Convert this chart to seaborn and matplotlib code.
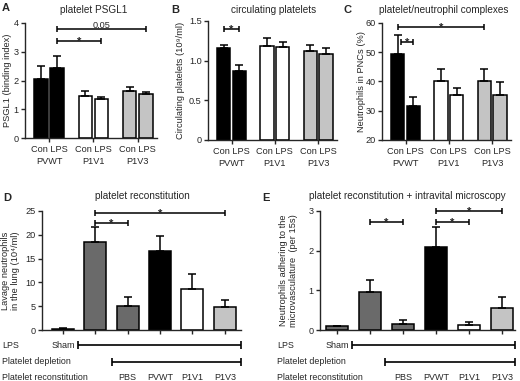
import numpy as np
import pandas as pd
import seaborn as sns
import matplotlib.pyplot as plt

# Data
groups = ["PVWT", "P1V1", "P1V3"]
conditions = ["Con", "LPS"]
psgl1_mean = [2.05, 2.42, 1.45, 1.35, 1.62, 1.53]
psgl1_err = [0.45, 0.43, 0.17, 0.07, 0.15, 0.06]
platelet_mean = [1.16, 0.87, 1.18, 1.17, 1.12, 1.09]
platelet_err = [0.04, 0.07, 0.10, 0.07, 0.08, 0.07]
pnc_mean = [49.5, 31.5, 40.0, 35.5, 40.0, 35.3]
pnc_err = [6.3, 3.3, 4.2, 2.2, 4.4, 4.5]

recon_groups = ["Sham", "LPS", "PBS", "PVWT", "P1V1", "P1V3"]
recon_labels = ["PBS", "PVWT", "P1V1", "P1V3"]
lavage_mean = [0.3, 18.4, 5.1, 16.5, 8.7, 4.8]
lavage_err = [0.2, 3.2, 1.9, 3.3, 3.1, 1.4]
adhere_mean = [0.10, 0.97, 0.16, 2.10, 0.12, 0.55]
adhere_err = [0.01, 0.28, 0.08, 0.50, 0.08, 0.28]

# significance brackets: (bar index 1, bar index 2, height, text)
psgl1_sig = [(1, 3, 3.37, "*"), (1, 5, 3.79, "0.05")]
platelet_sig = [(0, 1, 1.40, "*")]
pnc_sig = [(0, 1, 53.5, "*"), (0, 4, 58.6, "*")]
lavage_sig = [(1, 2, 22.5, "*"), (1, 5, 24.6, "*")]
adhere_sig = [(1, 2, 2.73, "*"), (3, 4, 2.73, "*"), (3, 5, 3.0, "*")]

top_colors = ["black", "black", "white", "white", "#c4c4c4", "#c4c4c4"]
bottom_colors = ["#6a6a6a", "#6a6a6a", "#6a6a6a", "black", "white", "#c4c4c4"]

sns.set_style("ticks")
plt.rcParams['font.family'] = ['Liberation Sans', 'DejaVu Sans']
plt.rcParams['font.size'] = 6.6
plt.rcParams['axes.linewidth'] = 1.0

W, H = 520, 381
fig = plt.figure(figsize=(W / 100, H / 100), dpi=100)


def px_rect(x0, y0, x1, y1):
    return [x0 / W, 1 - y1 / H, (x1 - x0) / W, (y1 - y0) / H]


def fig_text(x, y, s, **kw):
    fig.text(x / W, 1 - y / H, s, **kw)


def bracket(ax, x1, x2, y, text, ax_h_px):
    y0, y1 = ax.get_ylim()
    h = 3.0 / ax_h_px * (y1 - y0)
    kw = dict(color="black", lw=1.1, clip_on=False, solid_capstyle="butt")
    ax.plot([x1, x2], [y, y], **kw)
    ax.plot([x1, x1], [y - h, y + h], **kw)
    ax.plot([x2, x2], [y - h, y + h], **kw)
    if text == "*":
        ax.annotate(text, ((x1 + x2) / 2, y), xytext=(0, -2.8), textcoords="offset points",
                    ha="center", va="baseline", fontsize=8, fontweight="bold")
    else:
        ax.annotate(text, ((x1 + x2) / 2, y), xytext=(0, 0.6), textcoords="offset points",
                    ha="center", va="baseline", fontsize=6.6)


pos = [g * 2.75 + i for g in range(len(groups)) for i in range(len(conditions))]


def top_panel(rect_px, means, errs, ylim, yticks, yticklabels, ylabel, label_x, sigs):
    ax = fig.add_axes(px_rect(*rect_px))
    df = pd.DataFrame({"pos": pos, "value": means})
    sns.barplot(data=df, x="pos", y="value", native_scale=True, width=0.85,
                color="white", edgecolor="black", linewidth=1.1, errorbar=None, ax=ax)
    for patch, c in zip(ax.patches, top_colors):
        patch.set_facecolor(c)
    ax.errorbar(pos, means, yerr=[np.zeros(len(errs)), errs], fmt="none", ecolor="black",
                elinewidth=1.1, capsize=3, capthick=1.1)
    ax.set_xlim(-1.0, 7.2)
    ax.set_ylim(*ylim)
    ax.set_yticks(yticks, yticklabels)
    centers = [(pos[2 * g] + pos[2 * g + 1]) / 2 for g in range(len(groups))]
    ax.set_xticks(centers, [" ".join(conditions) + "\n" + g for g in groups])
    for t in ax.get_xticklabels():
        t.set_linespacing(1.4)
    ax.tick_params(axis="both", length=3, width=1.0, labelsize=6.6)
    ax.tick_params(axis="y", pad=1.5)
    ax.tick_params(axis="x", pad=2.2)
    ax.set_xlabel("")
    ax.set_ylabel(ylabel, fontsize=6.7)
    ax.yaxis.set_label_coords(label_x, 0.5)
    sns.despine(ax=ax)
    ax_h = rect_px[3] - rect_px[1]
    for i, j, y, s in sigs:
        x1 = pos[i] + (0.2 if (i, j) == (0, 1) and ylim[0] == 20 else 0)
        bracket(ax, x1, pos[j], y, s, ax_h)
    return ax


top_panel((25, 23, 157, 138), psgl1_mean, psgl1_err, (0, 4), [0, 1, 2, 3, 4],
          ["0", "1", "2", "3", "4"], "PSGL1 (binding index)", -0.1, psgl1_sig)
top_panel((208, 21, 337, 140), platelet_mean, platelet_err, (0, 1.5), [0, 0.5, 1.0, 1.5],
          ["0", "0.5", "1.0", "1.5"], "Circulating platelets (10⁹/ml)", -0.18, platelet_sig)
top_panel((382, 23, 511, 140), pnc_mean, pnc_err, (20, 60), [20, 30, 40, 50, 60],
          ["20", "30", "40", "50", "60"], "Neutrophils in PNCs (%)", -0.125, pnc_sig)


def bottom_panel(rect_px, means, errs, ylim, yticks, ylabel, label_x, xlim, sigs,
                 lps_start, depl_start, row_label_x):
    ax = fig.add_axes(px_rect(*rect_px))
    df = pd.DataFrame({"group": recon_groups, "value": means})
    sns.barplot(data=df, x="group", y="value", width=0.68, color="white",
                edgecolor="black", linewidth=1.1, errorbar=None, ax=ax)
    for patch, c in zip(ax.patches, bottom_colors):
        patch.set_facecolor(c)
    x = np.arange(len(means))
    ax.errorbar(x, means, yerr=[np.zeros(len(errs)), errs], fmt="none", ecolor="black",
                elinewidth=1.1, capsize=3, capthick=1.1)
    ax.set_xlim(*xlim)
    ax.set_ylim(*ylim)
    ax.set_yticks(yticks, [str(v) for v in yticks])
    ax.set_xticks(x, [""] * len(x))
    ax.tick_params(axis="both", length=3, width=1.0, labelsize=6.6)
    ax.tick_params(axis="y", pad=1.5)
    ax.set_xlabel("")
    ax.set_ylabel(ylabel, fontsize=6.7, linespacing=1.1)
    ax.yaxis.set_label_coords(label_x, 0.5)
    sns.despine(ax=ax)
    ax_h = rect_px[3] - rect_px[1]
    for i, j, y, s in sigs:
        bracket(ax, i, j, y, s, ax_h)

    # condition rows under the axis
    tr = ax.get_xaxis_transform()
    rows = [345, 362, 378]
    yf = [-(r - rect_px[3]) / ax_h for r in rows]
    cap = 4.0 / ax_h
    kw = dict(color="black", lw=1.2, clip_on=False, transform=tr, solid_capstyle="butt")
    for start, y in [(lps_start, yf[0]), (depl_start, yf[1])]:
        ax.plot([start, xlim[1]], [y, y], **kw)
        ax.plot([start, start], [y - cap, y + cap], **kw)
        ax.plot([xlim[1], xlim[1]], [y - cap, y + cap], **kw)
    ax.text(0, yf[0], "Sham", transform=tr, ha="center", va="center", fontsize=6.5)
    for k, lab in enumerate(recon_labels):
        ax.text(k + 2, yf[2], lab, transform=tr, ha="center", va="center", fontsize=6.5)
    for r, s in zip(rows, ["LPS", "Platelet depletion", "Platelet reconstitution"]):
        fig_text(row_label_x, r, s, ha="left", va="center", fontsize=6.4)
    return ax


bottom_panel((42, 211, 241, 330), lavage_mean, lavage_err, (0, 25), [0, 5, 10, 15, 20, 25],
             "Lavage neutrophils\nin the lung (10⁴/ml)", -0.11, (-0.65, 5.5), lavage_sig,
             0.45, 1.5, 2)
bottom_panel((320, 211, 515, 330), adhere_mean, adhere_err, (0, 3), [0, 1, 2, 3],
             "Neutrophils adhering to the\nmicrovasculature  (per 15s)", -0.113, (-0.52, 5.4),
             adhere_sig, 0.45, 1.45, 277)

# titles and panel letters
fig_text(94, 10, "platelet PSGL1", ha="center", va="center", fontsize=7.2)
fig_text(274, 10, "circulating platelets", ha="center", va="center", fontsize=7.2)
fig_text(444, 10, "platelet/neutrophil complexes", ha="center", va="center", fontsize=7.2)
fig_text(142, 196, "platelet reconstitution", ha="center", va="center", fontsize=7.2)
fig_text(407, 196, "platelet reconstitution + intravital microscopy", ha="center",
         va="center", fontsize=7.2)
for x, y, s in [(2, 8, "A"), (171, 10, "B"), (344, 10, "C"), (3, 198, "D"), (262, 198, "E")]:
    fig_text(x, y, s, ha="left", va="center", fontsize=8, fontweight="bold")

fig.savefig("out.png", dpi=100)
